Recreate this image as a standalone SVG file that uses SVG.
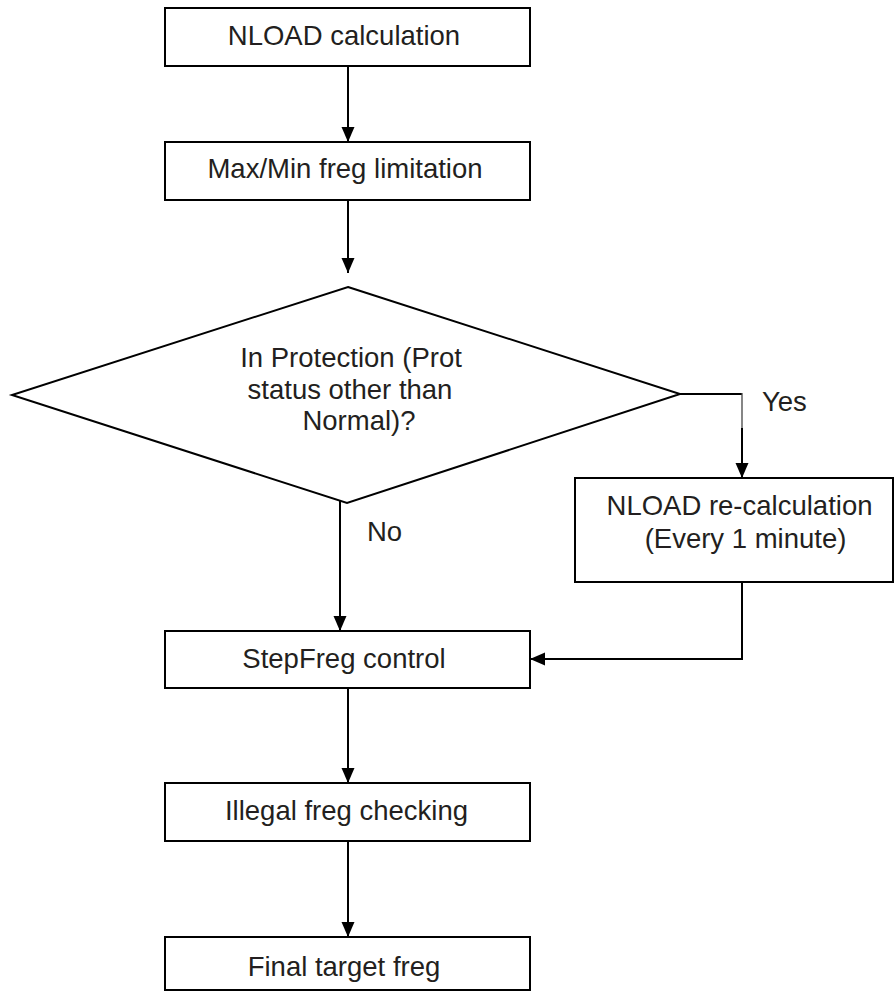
<svg xmlns="http://www.w3.org/2000/svg" width="895" height="992" viewBox="0 0 895 992">
<defs>
<style>
.box{fill:#fff;stroke:#000;stroke-width:2}
.t{font-family:"Liberation Sans",Arial,sans-serif;font-size:27.5px;fill:#231f20}
.c{text-anchor:middle}
.ln{fill:none;stroke:#000;stroke-width:2}
</style>
<marker id="ah" markerUnits="userSpaceOnUse" markerWidth="16" markerHeight="14" refX="15" refY="7" orient="auto">
<path d="M0,0.5 L15,7 L0,13.5 Z" fill="#000"/>
</marker>
</defs>
<rect width="895" height="992" fill="#fff"/>
<g id="connectors">
<line class="ln" x1="348" y1="66" x2="348" y2="142" marker-end="url(#ah)"/>
<line class="ln" x1="348" y1="200" x2="348" y2="273" marker-end="url(#ah)"/>
<polyline class="ln" points="680,394 742,394"/>
<line x1="742" y1="393" x2="742" y2="429" stroke="#444" stroke-width="1.3"/>
<line class="ln" x1="742" y1="428" x2="742" y2="478" marker-end="url(#ah)"/>
<line class="ln" x1="340" y1="501" x2="340" y2="631" marker-end="url(#ah)"/>
<polyline class="ln" points="742,582 742,659 530,659" marker-end="url(#ah)"/>
<line class="ln" x1="348" y1="688" x2="348" y2="783" marker-end="url(#ah)"/>
<line class="ln" x1="348" y1="841" x2="348" y2="937" marker-end="url(#ah)"/>
<text class="t" x="762" y="411">Yes</text>
<text class="t" x="367" y="541">No</text>
</g>
<g id="n1">
<rect class="box" x="165" y="8" width="365" height="58"/>
<text class="t c" x="344" y="45">NLOAD calculation</text>
</g>
<g id="n2">
<rect class="box" x="165" y="142" width="365" height="58"/>
<text class="t c" x="345" y="178">Max/Min freg limitation</text>
</g>
<g id="n3">
<polygon class="box" points="348,287 680,394 347,503 12,395"/>
<text class="t c" x="351" y="367">In Protection (Prot</text>
<text class="t c" x="350" y="398.5">status other than</text>
<text class="t c" x="359" y="430">Normal)?</text>
</g>
<g id="n4">
<rect class="box" x="575" y="478" width="318" height="104"/>
<text class="t c" x="739.5" y="515">NLOAD re-calculation</text>
<text class="t c" x="745.5" y="548">(Every 1 minute)</text>
</g>
<g id="n5">
<rect class="box" x="165" y="631" width="365" height="57"/>
<text class="t c" x="344" y="668">StepFreg control</text>
</g>
<g id="n6">
<rect class="box" x="165" y="783" width="365" height="58"/>
<text class="t c" x="346.5" y="820">Illegal freg checking</text>
</g>
<g id="n7">
<rect class="box" x="165" y="937" width="365" height="53"/>
<text class="t c" x="344" y="976">Final target freg</text>
</g>
</svg>
